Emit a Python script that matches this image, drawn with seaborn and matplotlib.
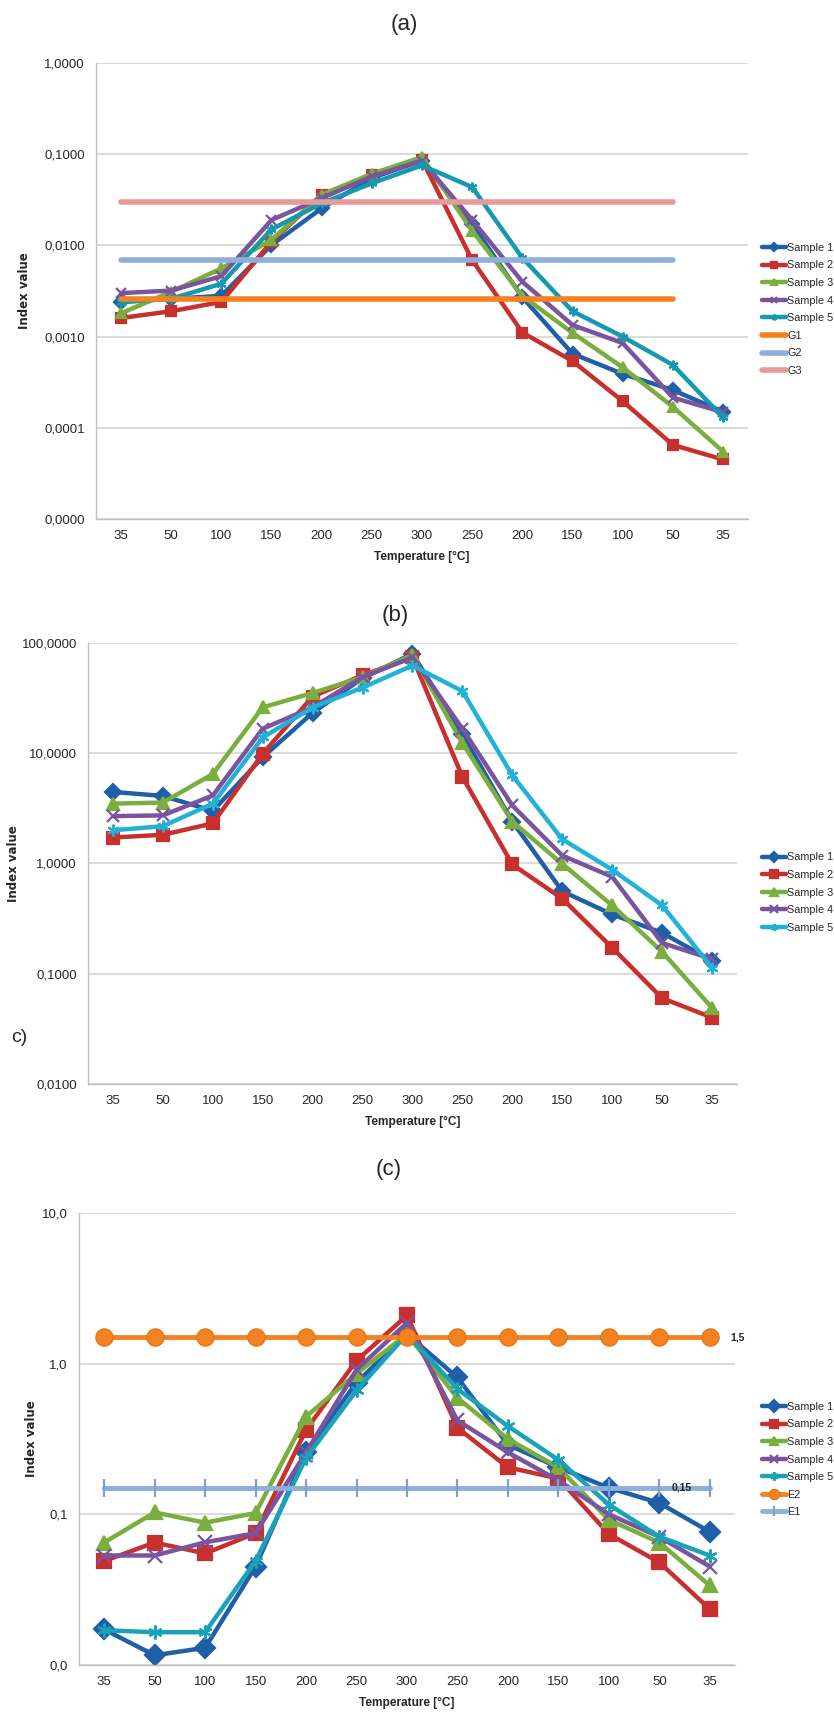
# plot.py
# ─────────────────────────────────────────────────────────────
# Index value vs. temperature cycle, three stacked log panels
# (a), (b), (c).  Saves out.png (834 x 1717 px).
# ─────────────────────────────────────────────────────────────

import numpy as np
import matplotlib
matplotlib.use('Agg')
import matplotlib.pyplot as plt
from matplotlib.ticker import FixedLocator, NullLocator, FuncFormatter
import seaborn as sns

# ── Data ─────────────────────────────────────────────────────
TEMPS = ['35', '50', '100', '150', '200', '250', '300',
         '250', '200', '150', '100', '50', '35']
SAMPLES = ['Sample 1', 'Sample 2', 'Sample 3', 'Sample 4', 'Sample 5']

# panel (a)
a_s1 = [0.0024, 0.0026, 0.0028, 0.0101, 0.0255, 0.055, 0.085, 0.017, 0.0027, 0.00065, 0.00039, 0.00026, 0.00015]
a_s2 = [0.0016, 0.0019, 0.0024, 0.0110, 0.036, 0.059, 0.087, 0.0069, 0.00111, 0.00054, 0.000196, 0.000065, 0.000045]
a_s3 = [0.0018, 0.0031, 0.0056, 0.0115, 0.036, 0.061, 0.093, 0.0145, 0.0028, 0.0011, 0.00046, 0.00017, 0.000055]
a_s4 = [0.0030, 0.0032, 0.0046, 0.019, 0.033, 0.057, 0.085, 0.019, 0.0040, 0.00134, 0.00085, 0.000215, 0.000148]
a_s5 = [0.0024, 0.0026, 0.0038, 0.015, 0.029, 0.048, 0.0755, 0.0436, 0.0073, 0.0019, 0.0010, 0.00049, 0.00013]
a_g1 = 0.0026
a_g2 = 0.0070
a_g3 = 0.030

# panel (b)
b_s1 = [4.46, 4.10, 3.0, 9.2, 23.3, 48, 80, 14.9, 2.4, 0.56, 0.345, 0.235, 0.131]
b_s2 = [1.72, 1.82, 2.31, 9.9, 32.7, 51, 74, 6.1, 0.98, 0.48, 0.172, 0.060, 0.040]
b_s3 = [3.49, 3.57, 6.48, 26.1, 35.2, 49, 78, 12.4, 2.4, 0.99, 0.417, 0.158, 0.049]
b_s4 = [2.69, 2.73, 4.14, 16.7, 26.1, 49, 74, 16.7, 3.36, 1.18, 0.757, 0.19, 0.136]
b_s5 = [2.0, 2.18, 3.49, 13.9, 26, 39.4, 62.5, 36.6, 6.3, 1.66, 0.877, 0.417, 0.113]

# panel (c)
c_s1 = [0.0172, 0.0116, 0.0130, 0.045, 0.26, 0.75, 1.57, 0.81, 0.29, 0.205, 0.15, 0.119, 0.0765]
c_s2 = [0.049, 0.065, 0.055, 0.075, 0.364, 1.05, 2.09, 0.375, 0.205, 0.173, 0.074, 0.048, 0.0235]
c_s3 = [0.065, 0.103, 0.088, 0.102, 0.445, 0.86, 1.57, 0.593, 0.316, 0.205, 0.092, 0.065, 0.0337]
c_s4 = [0.0533, 0.0533, 0.0652, 0.075, 0.258, 0.91, 1.87, 0.42, 0.258, 0.168, 0.10, 0.071, 0.045]
c_s5 = [0.017, 0.0165, 0.0165, 0.049, 0.237, 0.665, 1.57, 0.68, 0.385, 0.23, 0.116, 0.071, 0.0533]
c_e2 = 1.5
c_e1 = 0.15

# ── Style ────────────────────────────────────────────────────
sns.set_style('white')
plt.rcParams['font.family'] = ['Liberation Sans', 'DejaVu Sans']

COLORS = ['#1F5FA8', '#C8302E', '#7AAE3E', '#7A559E', '#1598B0']
MARKERS = ['D', 's', '^', 'x', (6, 2, 0)]
ORANGE = '#F58220'
LBLUE = '#8EAFD9'
PINK = '#E89A9A'
GRID = '#D4D4D4'
TEXT = '#262626'


def style_axis(ax, ylim, decimals, ticks):
    """Excel-like look: category x axis, log y, grey horizontal grid."""
    ax.set_yscale('log')
    ax.set_ylim(*ylim)
    ax.set_xlim(-0.5, len(TEMPS) - 0.5)
    ax.yaxis.set_major_locator(FixedLocator(ticks))
    ax.yaxis.set_minor_locator(NullLocator())
    ax.yaxis.set_major_formatter(
        FuncFormatter(lambda v, p: f"{v:.{decimals}f}".replace('.', ',')))
    ax.set_xticks(range(len(TEMPS)))
    ax.set_xticklabels(TEMPS)
    ax.grid(True, axis='y', color=GRID, linewidth=1.2)
    ax.grid(False, axis='x')
    for side in ['top', 'right']:
        ax.spines[side].set_visible(False)
    for side in ['left', 'bottom']:
        ax.spines[side].set_color('#BFBFBF')
        ax.spines[side].set_linewidth(1.0)
    ax.tick_params(axis='y', length=4, color='#BFBFBF', labelsize=9.5,
                   labelcolor=TEXT, pad=4)
    ax.tick_params(axis='x', length=0, labelsize=9.5, labelcolor=TEXT, pad=8)
    ax.set_xlabel('Temperature [°C]', fontsize=8.6, fontweight='bold',
                  color=TEXT, va='center')
    ax.set_ylabel('Index value', fontsize=8.5, fontweight='bold',
                  family='DejaVu Sans', color=TEXT)


def draw_samples(ax, series, msize, cyan):
    x = np.arange(len(TEMPS))
    for i, (name, vals) in enumerate(zip(SAMPLES, series)):
        color = cyan if i == 4 else COLORS[i]
        sns.lineplot(x=x, y=vals, ax=ax, color=color, label=name,
                     marker=MARKERS[i], markersize=msize,
                     markeredgecolor=color, markeredgewidth=1.6,
                     linewidth=3.2, sort=False, estimator=None)


def add_legend(fig, ax, top):
    handles, labels = ax.get_legend_handles_labels()
    ax.legend_.remove()
    leg = fig.legend(handles, labels, loc='upper left',
                     bbox_to_anchor=(0.905, top), frameon=False,
                     fontsize=7.8, handlelength=2.2, handletextpad=0.1,
                     labelspacing=0.7, borderpad=0.2, markerscale=0.6)
    for t in leg.get_texts():
        t.set_color(TEXT)
    return leg


fig = plt.figure(figsize=(8.34, 17.17), dpi=100)

# ── Panel (a) ────────────────────────────────────────────────
ax_a = fig.add_axes([0.115, 0.6977, 0.782, 0.2656])
draw_samples(ax_a, [a_s1, a_s2, a_s3, a_s4, a_s5], 7, '#1598B0')
g_x = np.arange(len(TEMPS) - 1)
for name, val, col in [('G1', a_g1, ORANGE), ('G2', a_g2, LBLUE), ('G3', a_g3, PINK)]:
    sns.lineplot(x=g_x, y=[val] * len(g_x), ax=ax_a, color=col, label=name,
                 linewidth=4, sort=False, estimator=None)
style_axis(ax_a, (1e-5, 1.0), 4, [1e-5, 1e-4, 1e-3, 1e-2, 1e-1, 1.0])
ax_a.xaxis.set_label_coords(0.5, -0.083)
ax_a.yaxis.set_label_coords(-0.10, 0.5)
add_legend(fig, ax_a, 0.863)
fig.text(0.485, 0.9855, '(a)', fontsize=16, ha='center', va='center')

# ── Panel (b) ────────────────────────────────────────────────
ax_b = fig.add_axes([0.1055, 0.3687, 0.7782, 0.2568])
draw_samples(ax_b, [b_s1, b_s2, b_s3, b_s4, b_s5], 8.5, '#22B2D8')
style_axis(ax_b, (0.01, 100.0), 4, [0.01, 0.1, 1.0, 10.0, 100.0])
ax_b.xaxis.set_label_coords(0.5, -0.086)
ax_b.yaxis.set_label_coords(-0.105, 0.5)
add_legend(fig, ax_b, 0.508)
fig.text(0.474, 0.6418, '(b)', fontsize=16, ha='center', va='center')
fig.text(0.023, 0.396, 'c)', fontsize=14, ha='center', va='center')

# ── Panel (c) ────────────────────────────────────────────────
ax_c = fig.add_axes([0.0947, 0.0303, 0.7866, 0.2632])
draw_samples(ax_c, [c_s1, c_s2, c_s3, c_s4, c_s5], 10, '#1AA3B8')
e_x = np.arange(len(TEMPS))
sns.lineplot(x=e_x, y=[c_e2] * len(e_x), ax=ax_c, color=ORANGE, label='E2',
             marker='o', markersize=12.5, markeredgecolor='#E07010',
             linewidth=3.5, sort=False, estimator=None)
sns.lineplot(x=e_x, y=[c_e1] * len(e_x), ax=ax_c, color=LBLUE, label='E1',
             marker='|', markersize=13, markeredgewidth=1.6,
             markeredgecolor='#7F9FCC', linewidth=3.5, sort=False,
             estimator=None)
style_axis(ax_c, (0.01, 10.0), 1, [0.01, 0.1, 1.0, 10.0])
ax_c.text(12.4, c_e2, '1,5', fontsize=7.5, fontweight='bold',
          ha='left', va='center', color=TEXT)
ax_c.text(11.45, c_e1, '0,15', fontsize=7.5, fontweight='bold',
          ha='center', va='center', color=TEXT)
ax_c.xaxis.set_label_coords(0.5, -0.084)
ax_c.yaxis.set_label_coords(-0.062, 0.5)
add_legend(fig, ax_c, 0.188)
fig.text(0.466, 0.3186, '(c)', fontsize=16, ha='center', va='center')

fig.savefig('out.png', dpi=100)
plt.close(fig)
